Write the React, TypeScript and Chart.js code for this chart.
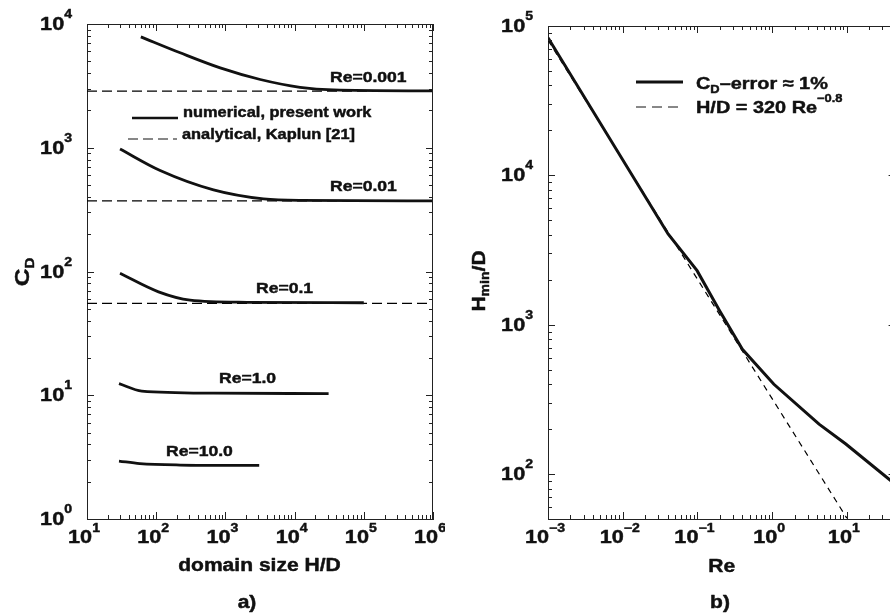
import React, { useEffect, useRef } from "react";
import { Chart, registerables } from "chart.js";
Chart.register(...registerables);

const FONT = '"Liberation Sans", Arial, Helvetica, sans-serif';
const SX = 1.17;
const INK = "#111";

// ---------- panel a) : C_D versus domain size ----------
const reLabels = ["Re=0.001", "Re=0.01", "Re=0.1", "Re=1.0", "Re=10.0"];
const hdRe0001 = [60, 222, 841, 3190, 12000, 36300, 1000000];
const cdRe0001 = [7870, 5850, 4420, 3560, 3080, 2930, 2880];
const hdRe001 = [30, 114, 673, 3560, 12000, 1000000];
const cdRe001 = [977, 655, 457, 386, 375, 372];
const hdRe01 = [30, 108, 309, 2050, 100000];
const cdRe01 = [96.6, 68.5, 58.7, 56.4, 55.9];
const hdRe1 = [29, 62, 673, 31000];
const cdRe1 = [12.4, 10.8, 10.4, 10.3];
const hdRe10 = [29, 58, 222, 3080];
const cdRe10 = [2.94, 2.8, 2.73, 2.71];
const kaplunHd = [10, 1000000];
const kaplunCd = [2870, 372, 55.2];
const legendA = ["numerical, present work", "analytical, Kaplun [21]"];

// ---------- panel b) : minimum domain size versus Re ----------
const reNum = [0.001, 0.0405, 0.099, 0.2, 0.4, 1.057, 4.25, 9.7, 38.9, 50];
const hminNum = [83500, 4050, 2300, 1230, 684, 399, 216, 159, 90.3, 84];
const reFit = [0.001, 10];
const hFit = [80400, 50.7];

type Part = { t: string; s: number; dy?: number };
type TextItem = { parts: Part[]; x: number; y: number; align?: "left" | "center" | "right" };
type LegendLine = { x1: number; x2: number; y: number; w: number; dash?: number[] };
type PanelCfg = {
  xExp: [number, number];
  yExp: [number, number];
  texts: TextItem[];
  rotated: TextItem[];
  lines: LegendLine[];
};

function setFont(ctx: CanvasRenderingContext2D, s: number) {
  ctx.font = `bold ${s}px ${FONT}`;
}
function partsWidth(ctx: CanvasRenderingContext2D, parts: Part[]) {
  let w = 0;
  for (const p of parts) {
    setFont(ctx, p.s);
    w += ctx.measureText(p.t).width;
  }
  return w;
}
function drawRich(ctx: CanvasRenderingContext2D, parts: Part[], x: number, y: number, align = "left") {
  const w = partsWidth(ctx, parts) * SX;
  const x0 = align === "left" ? x : align === "center" ? x - w / 2 : x - w;
  ctx.save();
  ctx.translate(x0, y);
  ctx.scale(SX, 1);
  ctx.fillStyle = INK;
  ctx.strokeStyle = INK;
  ctx.lineWidth = 0.45;
  ctx.lineJoin = "round";
  ctx.textAlign = "left";
  ctx.textBaseline = "alphabetic";
  let cx = 0;
  for (const p of parts) {
    setFont(ctx, p.s);
    ctx.fillText(p.t, cx, p.dy || 0);
    ctx.strokeText(p.t, cx, p.dy || 0);
    cx += ctx.measureText(p.t).width;
  }
  ctx.restore();
}
const expStr = (e: number) => (e < 0 ? "\u2212" + -e : String(e));

const framePlugin = {
  id: "frame",
  afterDraw(chart: any, _args: any, opts: any) {
    const cfg = opts as PanelCfg;
    const ctx: CanvasRenderingContext2D = chart.ctx;
    const a = chart.chartArea;
    const xs = chart.scales.x;
    const ys = chart.scales.y;
    ctx.save();
    ctx.strokeStyle = "#222";
    ctx.lineWidth = 1;
    ctx.beginPath();
    ctx.moveTo(a.left, Math.round(a.top) + 0.5);
    ctx.lineTo(a.right, Math.round(a.top) + 0.5);
    ctx.moveTo(Math.round(a.right) - 0.5, a.top);
    ctx.lineTo(Math.round(a.right) - 0.5, a.bottom);
    ctx.stroke();

    const logTicks = (min: number, max: number) => {
      const out: { v: number; major: boolean }[] = [];
      const e0 = Math.floor(Math.log10(min)) - 1;
      const e1 = Math.ceil(Math.log10(max)) + 1;
      for (let e = e0; e <= e1; e++) {
        for (let k = 1; k <= 9; k++) {
          const v = k * Math.pow(10, e);
          if (v < min * 0.999 || v > max * 1.001) continue;
          out.push({ v, major: k === 1 });
        }
      }
      return out;
    };
    ctx.beginPath();
    for (const t of logTicks(xs.min, xs.max)) {
      const px = Math.round(xs.getPixelForValue(t.v)) + 0.5;
      const L = t.major ? 7 : 4;
      ctx.moveTo(px, a.bottom);
      ctx.lineTo(px, a.bottom - L);
      ctx.moveTo(px, a.top);
      ctx.lineTo(px, a.top + L);
    }
    for (const t of logTicks(ys.min, ys.max)) {
      const py = Math.round(ys.getPixelForValue(t.v)) + 0.5;
      const L = t.major ? 7 : 4;
      ctx.moveTo(a.left, py);
      ctx.lineTo(a.left + L, py);
      ctx.moveTo(a.right, py);
      ctx.lineTo(a.right - L, py);
    }
    ctx.stroke();

    // decade labels
    for (let e = cfg.xExp[0]; e <= cfg.xExp[1]; e++) {
      const px = xs.getPixelForValue(Math.pow(10, e));
      drawRich(ctx, [{ t: "10", s: 18.5 }, { t: expStr(e), s: 12, dy: -11 }], px - 3, a.bottom + 24, "center");
    }
    for (let e = cfg.yExp[0]; e <= cfg.yExp[1]; e++) {
      const py = ys.getPixelForValue(Math.pow(10, e));
      drawRich(ctx, [{ t: "10", s: 18.5 }, { t: expStr(e), s: 12, dy: -12 }], a.left - 15, py + 6, "right");
    }

    // legend samples
    for (const l of cfg.lines) {
      ctx.beginPath();
      ctx.lineWidth = l.w;
      ctx.strokeStyle = INK;
      ctx.setLineDash(l.dash || []);
      ctx.moveTo(l.x1, l.y);
      ctx.lineTo(l.x2, l.y);
      ctx.stroke();
    }
    ctx.setLineDash([]);
    for (const t of cfg.texts) drawRich(ctx, t.parts, t.x, t.y, t.align || "left");
    for (const t of cfg.rotated) {
      ctx.save();
      ctx.translate(t.x, t.y);
      ctx.rotate(-Math.PI / 2);
      drawRich(ctx, t.parts, 0, 0, "center");
      ctx.restore();
    }
    ctx.restore();
  },
};

const pts = (xs: number[], ys: number[]) => xs.map((x, i) => ({ x, y: ys[i] }));

function baseOptions(xmin: number, xmax: number, ymin: number, ymax: number, padding: any, cfg: PanelCfg) {
  const axis = (min: number, max: number, isX: boolean) => ({
    type: "logarithmic",
    min,
    max,
    display: true,
    ticks: { display: false },
    grid: { display: false },
    border: { display: true, color: "#222", width: 1 },
    afterFit: (s: any) => {
      if (isX) s.height = 0;
      else s.width = 0;
    },
  });
  return {
    responsive: false,
    animation: false,
    events: [],
    layout: { padding },
    plugins: { legend: { display: false }, tooltip: { enabled: false }, frame: cfg },
    scales: { x: axis(xmin, xmax, true), y: axis(ymin, ymax, false) },
  };
}

const solid = (data: any[], w: number, smooth: boolean) => ({
  data,
  borderColor: INK,
  borderWidth: w,
  pointRadius: 0,
  fill: false,
  tension: 0,
  cubicInterpolationMode: smooth ? "monotone" : "default",
});
const dashed = (data: any[], dash: number[]) => ({
  data,
  borderColor: "#000",
  borderWidth: 1.2,
  borderDash: dash,
  pointRadius: 0,
  fill: false,
  tension: 0,
});

export default function App() {
  const refA = useRef<HTMLCanvasElement>(null);
  const refB = useRef<HTMLCanvasElement>(null);

  useEffect(() => {
    const cfgA: PanelCfg = {
      xExp: [1, 6],
      yExp: [0, 4],
      lines: [
        { x1: 132, x2: 178, y: 118, w: 2.5 },
        { x1: 128, x2: 177, y: 139, w: 1.2, dash: [10, 5] },
      ],
      texts: [
        { parts: [{ t: reLabels[0], s: 15 }], x: 330, y: 82 },
        { parts: [{ t: reLabels[1], s: 15 }], x: 330, y: 191 },
        { parts: [{ t: reLabels[2], s: 15 }], x: 256, y: 292.5 },
        { parts: [{ t: reLabels[3], s: 15 }], x: 219, y: 383 },
        { parts: [{ t: reLabels[4], s: 15 }], x: 166, y: 456 },
        { parts: [{ t: legendA[0], s: 14 }], x: 183, y: 117 },
        { parts: [{ t: legendA[1], s: 14 }], x: 182, y: 139 },
        { parts: [{ t: "domain size H/D", s: 18 }], x: 259.5, y: 571, align: "center" },
        { parts: [{ t: "a)", s: 18 }], x: 247, y: 608, align: "center" },
      ],
      rotated: [{ parts: [{ t: "C", s: 21 }, { t: "D", s: 13, dy: 5 }], x: 29, y: 272 }],
    };
    const chartA = new Chart(refA.current as HTMLCanvasElement, {
      type: "line",
      data: {
        datasets: [
          solid(pts(hdRe0001, cdRe0001), 2.8, true),
          solid(pts(hdRe001, cdRe001), 2.8, true),
          solid(pts(hdRe01, cdRe01), 2.8, true),
          solid(pts(hdRe1, cdRe1), 2.8, true),
          solid(pts(hdRe10, cdRe10), 2.8, true),
          dashed(pts(kaplunHd, [kaplunCd[0], kaplunCd[0]]), [10, 5]),
          dashed(pts(kaplunHd, [kaplunCd[1], kaplunCd[1]]), [10, 5]),
          dashed(pts(kaplunHd, [kaplunCd[2], kaplunCd[2]]), [10, 5]),
        ] as any,
      },
      options: baseOptions(10, 1e6, 1, 1e4, { left: 87, right: 12, top: 24, bottom: 95 }, cfgA) as any,
      plugins: [framePlugin as any],
    });

    const cfgB: PanelCfg = {
      xExp: [-3, 1],
      yExp: [2, 5],
      lines: [
        { x1: 191, x2: 238, y: 82, w: 3 },
        { x1: 191, x2: 238, y: 107, w: 1, dash: [10, 6] },
      ],
      texts: [
        {
          parts: [{ t: "C", s: 17 }, { t: "D", s: 11, dy: 4 }, { t: "\u2013error \u2248 1%", s: 17 }],
          x: 251,
          y: 89,
        },
        { parts: [{ t: "H/D = 320 Re", s: 17 }, { t: "\u22120.8", s: 11, dy: -11 }], x: 251, y: 113 },
        { parts: [{ t: "Re", s: 18 }], x: 276.7, y: 572, align: "center" },
        { parts: [{ t: "b)", s: 18 }], x: 275, y: 608, align: "center" },
      ],
      rotated: [
        {
          parts: [{ t: "H", s: 18 }, { t: "min", s: 12, dy: 4 }, { t: "/D", s: 18 }],
          x: 40,
          y: 281,
        },
      ],
    };
    const chartB = new Chart(refB.current as HTMLCanvasElement, {
      type: "line",
      data: {
        datasets: [solid(pts(reNum, hminNum), 3, false), dashed(pts(reFit, hFit), [6, 5])] as any,
      },
      options: baseOptions(0.001, 45, 50, 1e5, { left: 103, right: 9.4, top: 26, bottom: 95 }, cfgB) as any,
      plugins: [framePlugin as any],
    });

    return () => {
      chartA.destroy();
      chartB.destroy();
    };
  }, []);

  return (
    <div
      style={{
        position: "fixed",
        left: 0,
        top: 0,
        width: 890,
        height: 614,
        overflow: "hidden",
        background: "#fff",
      }}
    >
      <canvas ref={refA} width={445} height={614} style={{ position: "absolute", left: 0, top: 0 }} />
      <canvas ref={refB} width={460} height={614} style={{ position: "absolute", left: 445, top: 0 }} />
    </div>
  );
}
